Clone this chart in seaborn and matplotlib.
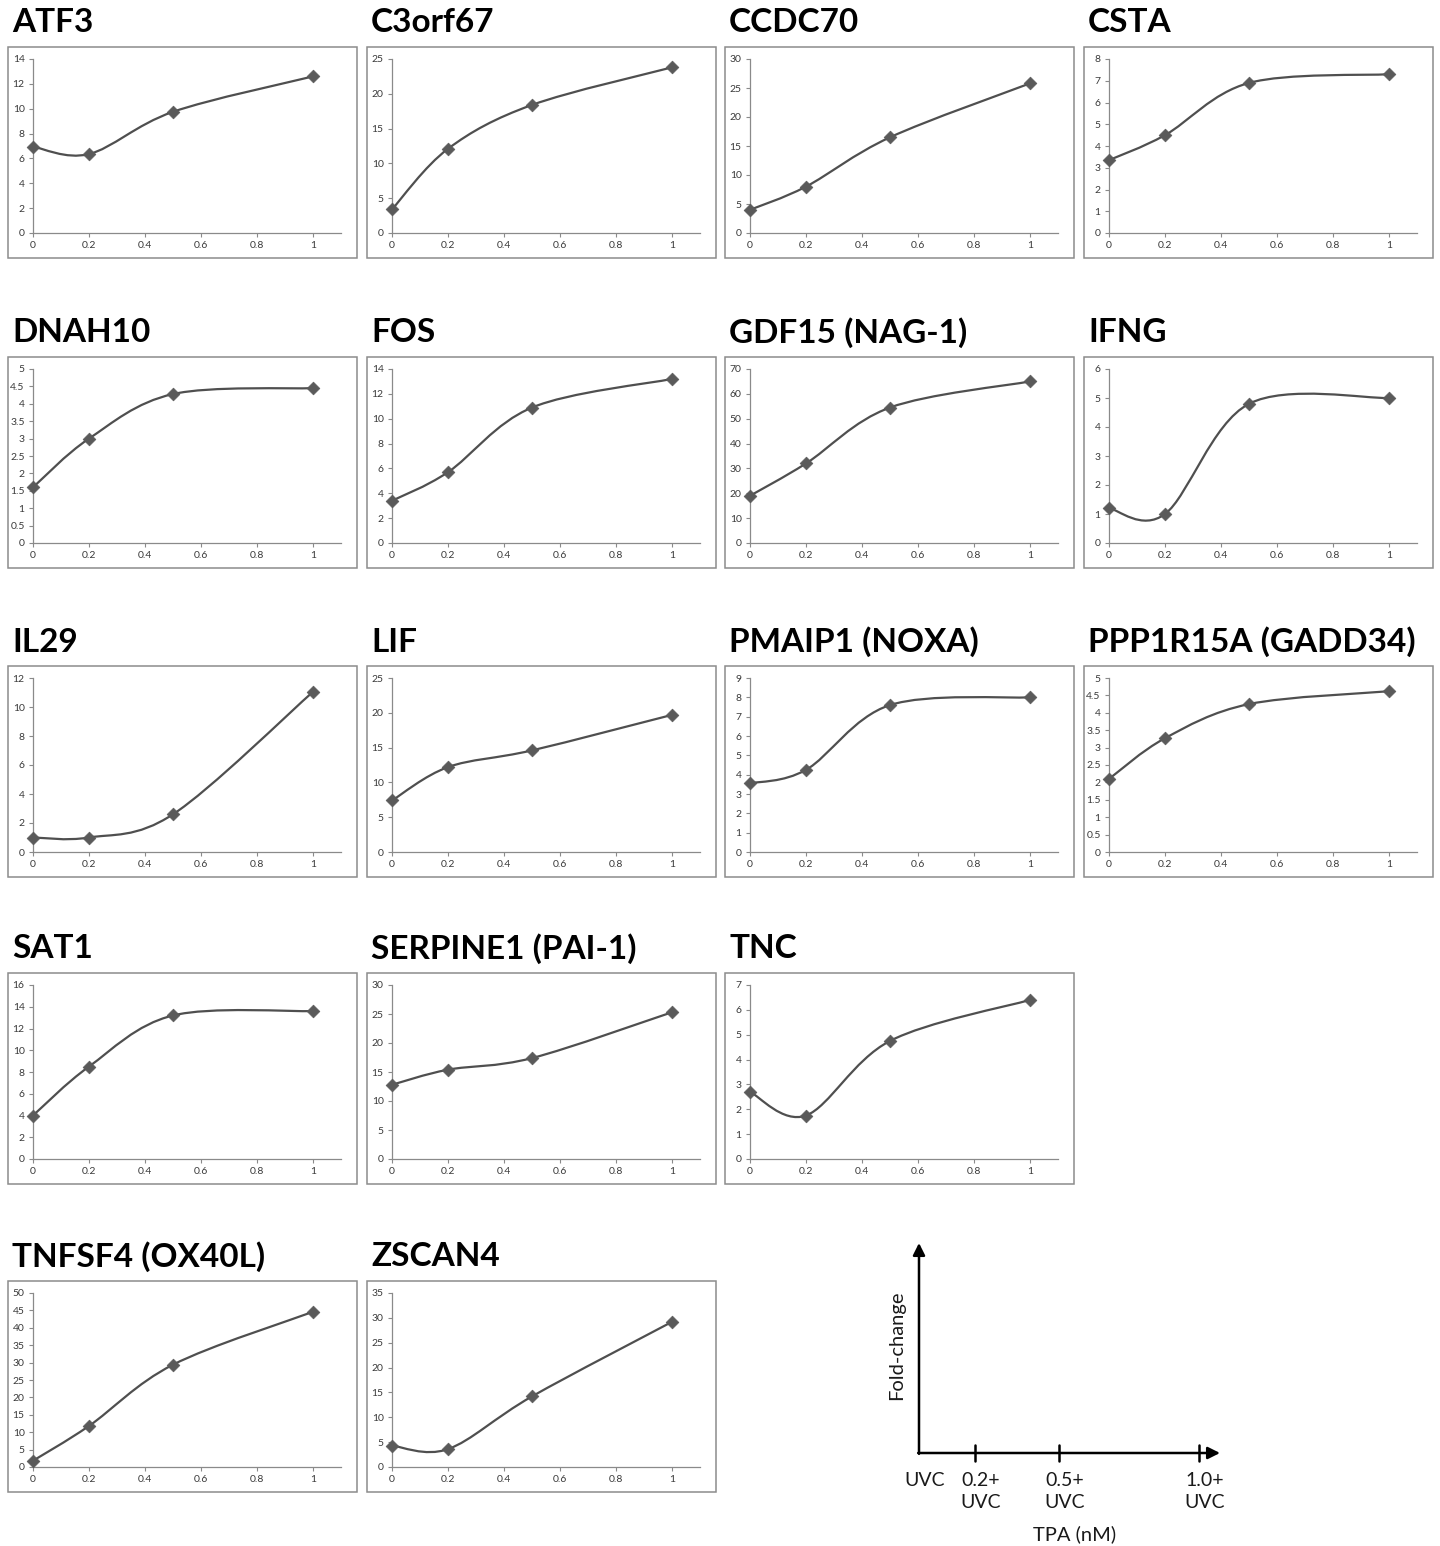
import numpy as np
import pandas as pd
import seaborn as sns
import matplotlib
matplotlib.use("Agg")
import matplotlib.pyplot as plt
from matplotlib.path import Path
from matplotlib.patches import PathPatch, Rectangle

# ---------------- data ----------------
doses = [0, 0.2, 0.5, 1]
genes = ["ATF3", "C3orf67", "CCDC70", "CSTA", "DNAH10", "FOS", "GDF15 (NAG-1)",
         "IFNG", "IL29", "LIF", "PMAIP1 (NOXA)", "PPP1R15A (GADD34)", "SAT1",
         "SERPINE1 (PAI-1)", "TNC", "TNFSF4 (OX40L)", "ZSCAN4"]
atf3 = [6.95, 6.35, 9.75, 12.6]
c3orf67 = [3.4, 12.1, 18.4, 23.8]
ccdc70 = [4.0, 8.0, 16.5, 25.8]
csta = [3.35, 4.5, 6.9, 7.3]
dnah10 = [1.6, 3.0, 4.28, 4.45]
fos = [3.4, 5.7, 10.9, 13.2]
gdf15 = [19.0, 32.0, 54.5, 65.0]
ifng = [1.2, 1.0, 4.8, 5.0]
il29 = [1.0, 1.0, 2.6, 11.05]
lif = [7.4, 12.2, 14.6, 19.7]
pmaip1 = [3.55, 4.25, 7.6, 8.0]
ppp1r15a = [2.1, 3.27, 4.25, 4.62]
sat1 = [4.0, 8.5, 13.2, 13.6]
serpine1 = [12.8, 15.4, 17.4, 25.3]
tnc = [2.7, 1.75, 4.75, 6.4]
tnfsf4 = [1.8, 11.8, 29.4, 44.6]
zscan4 = [4.3, 3.6, 14.2, 29.2]
series = [atf3, c3orf67, ccdc70, csta, dnah10, fos, gdf15, ifng, il29, lif,
          pmaip1, ppp1r15a, sat1, serpine1, tnc, tnfsf4, zscan4]
y_max = [14, 25, 30, 8, 5, 14, 70, 6, 12, 25, 9, 5, 16, 30, 7, 50, 35]
y_step = [2, 5, 5, 1, 0.5, 2, 10, 1, 2, 5, 1, 0.5, 2, 5, 1, 5, 5]
x_ticks = [0, 0.2, 0.4, 0.6, 0.8, 1]
x_ticklabels = ["0", "0.2", "0.4", "0.6", "0.8", "1"]

legend_ticks = [0.2, 0.5, 1.0]
legend_labels = ["UVC", "0.2+\nUVC", "0.5+\nUVC", "1.0+\nUVC"]
legend_label_x = [0, 0.2, 0.5, 1.0]

# ---------------- style ----------------
sns.set_theme(style="white")
plt.rcParams["font.family"] = ["Lato", "DejaVu Sans"]

W, H = 1440, 1546
fig = plt.figure(figsize=(W / 100, H / 100), dpi=100)
fig.patch.set_facecolor("white")

LINE_C = "#4f4f4f"
MARK_C = "#5a5a5a"
AX_C = "#8a8a8a"
TXT_C = "#3a3a3a"

col_left = [8, 367, 725, 1084]
row_top = [47, 357, 666, 973, 1281]
slots = [(0, 0), (0, 1), (0, 2), (0, 3),
         (1, 0), (1, 1), (1, 2), (1, 3),
         (2, 0), (2, 1), (2, 2), (2, 3),
         (3, 0), (3, 1), (3, 2),
         (4, 0), (4, 1)]
FW, FH = 349, 211


def fx(px):
    return px / W


def fy(py):
    return 1 - py / H


def smooth_path(xs, ys):
    """Excel-style smoothed line (Catmull-Rom converted to cubic Bezier)."""
    pts = np.column_stack([xs, ys]).astype(float)
    n = len(pts)
    verts = [pts[0]]
    codes = [Path.MOVETO]
    for i in range(n - 1):
        p_prev = pts[i - 1] if i > 0 else pts[i]
        p0, p1 = pts[i], pts[i + 1]
        p_next = pts[i + 2] if i + 2 < n else pts[i + 1]
        c1 = p0 + (p1 - p_prev) / 6.0
        c2 = p1 - (p_next - p0) / 6.0
        verts += [c1, c2, p1]
        codes += [Path.CURVE4] * 3
    return Path(verts, codes)


for gene, vals, ymx, ystp, (r, c) in zip(genes, series, y_max, y_step, slots):
    left = col_left[c]
    top = row_top[r]
    # frame
    fig.add_artist(Rectangle((fx(left), fy(top + FH)), FW / W, FH / H,
                             transform=fig.transFigure, fill=False,
                             edgecolor="#8c8c8c", lw=1.1))
    # title
    fig.text(fx(left + 4), fy(top - 24), gene, fontsize=24, fontweight="bold",
             color="black", va="center", ha="left")
    # axes
    ax = fig.add_axes([fx(left + 25), fy(top + FH - 25), 308 / W, 174 / H])
    df = pd.DataFrame({"dose": doses, "fold": vals})
    ax.add_patch(PathPatch(smooth_path(df["dose"], df["fold"]), fill=False,
                           edgecolor=LINE_C, lw=1.6, zorder=2))
    sns.scatterplot(data=df, x="dose", y="fold", marker="D", s=42,
                    color=MARK_C, edgecolor=MARK_C, linewidth=0.5, ax=ax,
                    zorder=3, clip_on=False)
    ax.set_xlim(0, 1.1)
    ax.set_ylim(0, ymx)
    ax.set_xticks(x_ticks)
    ax.set_xticklabels(x_ticklabels)
    yt = np.arange(0, ymx + ystp / 2, ystp)
    ax.set_yticks(yt)
    ax.set_yticklabels([f"{v:g}" for v in yt])
    ax.set_xlabel("")
    ax.set_ylabel("")
    for s in ["top", "right"]:
        ax.spines[s].set_visible(False)
    for s in ["left", "bottom"]:
        ax.spines[s].set_color(AX_C)
        ax.spines[s].set_linewidth(0.9)
    ax.tick_params(axis="both", which="major", length=3, width=0.8,
                   color=AX_C, labelsize=7.5, labelcolor=TXT_C, pad=3,
                   direction="out", bottom=True, left=True)
    ax.set_facecolor("white")

# ---------------- schematic legend ----------------
lax = fig.add_axes([fx(919), fy(1453), 308 / W, 210 / H])
lax.set_xlim(0, 1.1)
lax.set_ylim(0, 1)
lax.axis("off")
arrow = dict(arrowstyle="-|>,head_length=0.6,head_width=0.3", color="black",
             lw=1.8, shrinkA=0, shrinkB=0)
lax.annotate("", xy=(1.075, 0), xytext=(-0.003, 0), arrowprops=arrow,
             annotation_clip=False)
lax.annotate("", xy=(0, 1.0), xytext=(0, -0.004), arrowprops=arrow,
             annotation_clip=False)
for t in legend_ticks:
    lax.plot([t, t], [-0.036, 0.036], color="black", lw=1.8, clip_on=False)
for lx, lab in zip(legend_label_x, legend_labels):
    lax.text(lx + 0.02, -0.09, lab, ha="center", va="top", fontsize=14,
             color="#1a1a1a", linespacing=1.35, clip_on=False)
lax.text(0.557, -0.385, "TPA (nM)", ha="center", va="center", fontsize=14.5,
         color="#1a1a1a", clip_on=False)
lax.text(-0.079, 0.514, "Fold-change", ha="center", va="center", fontsize=14.5,
         rotation=90, color="#1a1a1a", clip_on=False)

fig.savefig("out.png", dpi=100, facecolor="white")
